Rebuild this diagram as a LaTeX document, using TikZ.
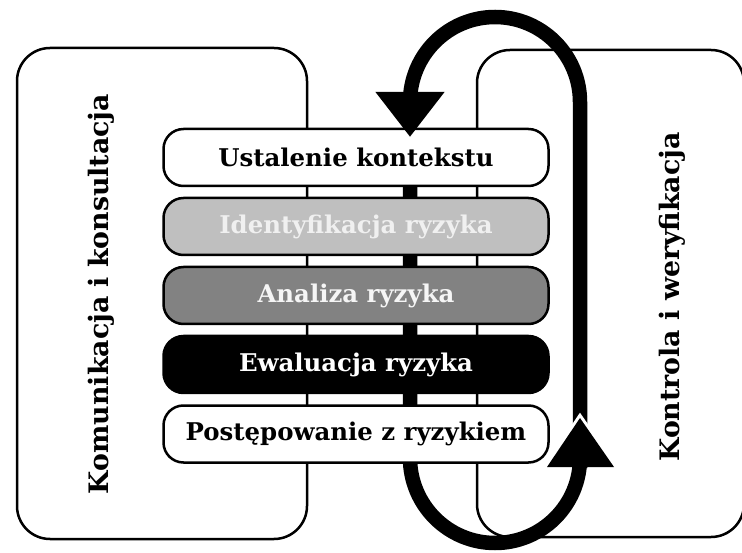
\documentclass[tikz,border=0pt]{standalone}
\usepackage{fontspec}
\setmainfont{DejaVu Serif}
\usetikzlibrary{arrows.meta}
\newcommand{\stagefont}{\fontsize{24.4}{28}\selectfont\bfseries}
\newcommand{\lanefont}{\fontsize{26.8}{30}\selectfont\bfseries}
\begin{document}
\begin{tikzpicture}[x=1pt,y=-1pt]
\tikzset{
  lane/.style={draw=black, line width=2.5pt, rounded corners=33pt, inner sep=0pt},
  stage/.style={draw=black, line width=2.5pt, rounded corners=20pt, minimum width=385pt, minimum height=57pt, inner sep=0pt, font=\stagefont},
  lanetext/.style={rotate=90, font=\lanefont, inner sep=0pt},
  loopline/.style={line width=14.5pt, black},
}
\useasboundingbox (0,0) rectangle (742,553);
% lanes
\node[lane, minimum width=290pt, minimum height=491pt] (komlane) at (162,293.5) {};
\node[lane, minimum width=267pt, minimum height=487pt] (kontlane) at (610.5,293.5) {};
\node[lanetext] (komtext) at (101,294) {Komunikacja i konsultacja};
\node[lanetext] (konttext) at (672,297) {Kontrola i weryfikacja};
% loop coordinates
\coordinate (topL) at (410,102);
\coordinate (topR) at (580,102);
\coordinate (botL) at (410,458);
\coordinate (botR) at (580,458);
\coordinate (tipDown) at (410,137);
\coordinate (tipUp) at (580,418);
\coordinate (upL) at (547,467);
\coordinate (upR) at (614,467);
\coordinate (upBase) at (580,468);
\coordinate (startA) at (580,440);
\coordinate (startB) at (410,140);
% loop behind the stages
\draw[loopline] (startB) -- (botL) arc[start angle=180, end angle=0, radius=85] -- (upBase);
% stages
\node[stage, fill=white, text=black] (ctx) at (356,157.5) {Ustalenie kontekstu};
\node[stage, fill=black!25, text=white!94!black] (ident) at (356,226.5) {Identyfikacja ryzyka};
\node[stage, fill=black!49, text=white!96!black] (anal) at (356,295.5) {Analiza ryzyka};
\node[stage, fill=black, text=white] (eval) at (356,364.5) {Ewaluacja ryzyka};
\node[stage, fill=white, text=black] (treat) at (356,434) {Postępowanie z ryzykiem};
% upper return path with arrow into the first stage
\draw[loopline, -{Triangle[width=66pt, length=45pt]}] (startA) -- (topR) arc[start angle=0, end angle=-180, radius=85] -- (tipDown);
% upward arrow head with white outline
\draw[white, line width=6pt, line join=miter] (upL) -- (tipUp) -- (upR);
\fill[black] (upL) -- (tipUp) -- (upR) -- cycle;
\end{tikzpicture}
\end{document}
